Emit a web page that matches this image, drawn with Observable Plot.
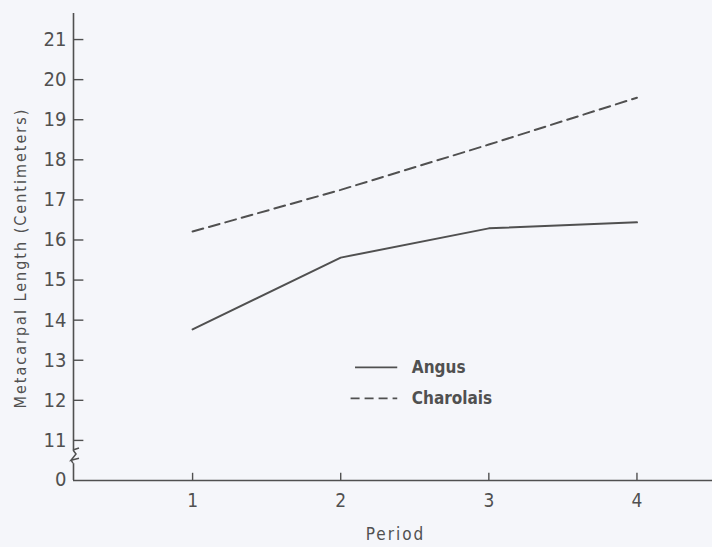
<!DOCTYPE html>
<html>
<head>
<meta charset="utf-8">
<script src="https://cdn.jsdelivr.net/npm/d3@7"></script>
<script src="https://cdn.jsdelivr.net/npm/@observablehq/plot@0.6"></script>
<style>
  html, body { margin: 0; padding: 0; background: #f5f6fa; }
</style>
</head>
<body>
<div id="chart"></div>
<script>
const periods = [1, 2, 3, 4];
const angus = [13.77, 15.56, 16.29, 16.44];
const charolais = [16.21, 17.25, 18.38, 19.55];
const seriesNames = ["Angus", "Charolais"];
const yTicks = [11, 12, 13, 14, 15, 16, 17, 18, 19, 20, 21];
const yZeroLabel = "0";
const yTitle = "Metacarpal Length (Centimeters)";
const xTitle = "Period";

const xDomain = [0.196, 4.51];
const yBase = 10;      // position where "0" sits (broken axis)
const yTop = 21.65;
const breakLo = 10.42, breakHi = 10.75;

const ink = "#505050";
const font = "'DejaVu Sans Condensed', 'Liberation Sans Narrow', sans-serif";

const data = [
  ...periods.map((p, i) => ({period: p, value: angus[i], breed: seriesNames[0]})),
  ...periods.map((p, i) => ({period: p, value: charolais[i], breed: seriesNames[1]}))
];

const legend = [
  {breed: seriesNames[0], y: 12.82},
  {breed: seriesNames[1], y: 12.05}
];

// axis break squiggle drawn from the scales
function axisBreak(index, scales) {
  const x0 = scales.x(xDomain[0]);
  const yl = scales.y(breakLo), yh = scales.y(breakHi);
  const g = d3.create("svg:g").attr("fill", "none").attr("stroke", ink).attr("stroke-width", 1.5);
  g.append("path").attr("d",
    `M${x0},${yh} L${x0 + 6},${yh - 2}` +
    `M${x0},${yh} L${x0 + 3},${yh + 4} L${x0 - 2},${yl - 3} L${x0 + 6},${yl - 5}` +
    `M${x0 - 2},${yl - 3} L${x0},${yl}`);
  return g.node();
}

const chart = Plot.plot({
  width: 712,
  height: 547,
  marginLeft: 73,
  marginRight: 0,
  marginTop: 13,
  marginBottom: 67,
  style: {background: "#f5f6fa", color: ink, fontFamily: font},
  x: {domain: xDomain},
  y: {domain: [yBase, yTop]},
  marks: [
    Plot.ruleY([yBase], {stroke: ink, strokeWidth: 1.6}),
    Plot.ruleX([xDomain[0]], {y1: yBase, y2: breakLo, stroke: ink, strokeWidth: 1.6}),
    Plot.ruleX([xDomain[0]], {y1: breakHi, y2: yTop, stroke: ink, strokeWidth: 1.6}),
    axisBreak,
    Plot.ruleY(yTicks, {y: d => d, x1: xDomain[0], x2: xDomain[0] + 0.07, stroke: ink, strokeWidth: 1.4}),
    Plot.ruleX(periods, {x: d => d, y1: yBase, y2: yBase + 0.18, stroke: ink, strokeWidth: 1.4}),
    Plot.axisY({ticks: yTicks, tickFormat: "d", tickSize: 0, tickPadding: 7, fontSize: 20, label: null}),
    Plot.text([yZeroLabel], {x: xDomain[0], y: yBase, text: d => d, dx: -7, dy: -1, textAnchor: "end", fontSize: 20, fill: ink}),
    Plot.axisX({ticks: periods, tickFormat: "d", tickSize: 0, tickPadding: 13, fontSize: 19, label: null}),
    Plot.text([yTitle], {frameAnchor: "left", y: 15.55, dx: -53, rotate: -90, textAnchor: "middle", fontSize: 16, fill: ink}),
    Plot.text([xTitle], {x: 2.37, frameAnchor: "bottom", dy: 59, fontSize: 17, fill: ink}),
    Plot.line(data.filter(d => d.breed === seriesNames[0]), {x: "period", y: "value", stroke: ink, strokeWidth: 2}),
    Plot.line(data.filter(d => d.breed === seriesNames[1]), {x: "period", y: "value", stroke: ink, strokeWidth: 2, strokeDasharray: "11,6"}),
    Plot.ruleY([legend[0]], {y: "y", x1: 2.10, x2: 2.385, stroke: ink, strokeWidth: 1.8}),
    Plot.ruleY([legend[1]], {y: "y", x1: 2.07, x2: 2.385, stroke: ink, strokeWidth: 1.8, strokeDasharray: "9,5"}),
    Plot.text(legend, {x: 2.48, y: "y", text: "breed", textAnchor: "start", fontSize: 17, fill: ink, fontWeight: "bold"})
  ]
});
// letter-spaced axis titles, as in the reference
d3.select(chart).selectAll("text")
  .filter(function () { return this.textContent === yTitle || this.textContent === xTitle; })
  .attr("letter-spacing", "2px");
document.getElementById("chart").append(chart);
</script>
</body>
</html>
